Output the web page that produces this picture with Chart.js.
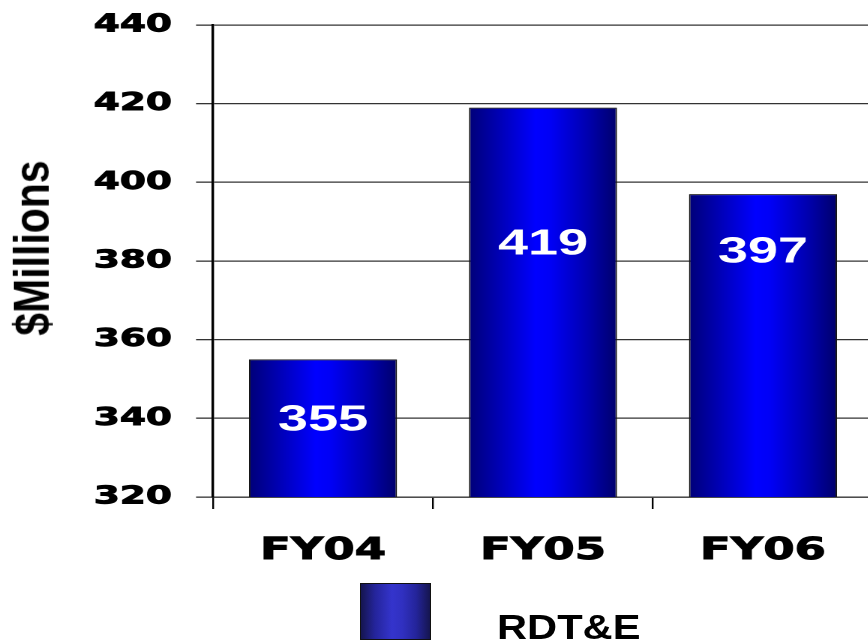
<!DOCTYPE html>
<html>
<head>
<meta charset="utf-8">
<script src="https://cdn.jsdelivr.net/npm/chart.js@4.4.1/dist/chart.umd.min.js"></script>
<style>
html,body{margin:0;padding:0;background:#fff;overflow:hidden;width:868px;height:640px;}
#wrap{position:absolute;left:0;top:0;width:582px;height:640px;transform:scaleX(1.5);transform-origin:0 0;}
#ytitle{position:absolute;left:33px;top:248px;font:bold 41px "Liberation Sans",Arial,sans-serif;color:#000;white-space:nowrap;line-height:41px;transform:translate(-50%,-50%) rotate(-90deg) scaleY(1.2);}
#legbox{position:absolute;left:360px;top:583px;width:69px;height:55px;border:1px solid #111;
  background:linear-gradient(to right,#15154f 0%,#24249a 20%,#3434cc 45%,#3030c0 60%,#24249a 80%,#15154f 100%);}
#legtext{position:absolute;left:497px;top:609px;font:bold 35px "Liberation Sans",Arial,sans-serif;line-height:35px;color:#000;white-space:nowrap;transform:scaleX(1.19);transform-origin:0 0;}
</style>
</head>
<body>
<div id="wrap"><canvas id="c"></canvas></div>
<div id="ytitle"></div>
<div id="legbox"></div>
<div id="legtext"></div>
<script>
const categories = ['FY04', 'FY05', 'FY06'];
const values = [355, 419, 397];
const seriesName = 'RDT&E';
const axisTitle = '$Millions';
const yMin = 320, yMax = 440, yStep = 20;
// where each value label sits inside its bar, in axis units
const labelAt = [340.2, 384.9, 382.9];

document.getElementById('ytitle').textContent = axisTitle;
document.getElementById('legtext').textContent = seriesName;

const BAR_PCT = 0.673;

function barGradient(context) {
  const chart = context.chart;
  const xs = chart.scales.x;
  const area = chart.chartArea;
  if (!xs || !area) return '#0000ff';
  const cx = xs.getPixelForValue(context.dataIndex);
  const w = (area.right - area.left) / categories.length * BAR_PCT;
  const g = chart.ctx.createLinearGradient(cx - w / 2, 0, cx + w / 2, 0);
  g.addColorStop(0, '#000078');
  g.addColorStop(0.2, '#0000b4');
  g.addColorStop(0.45, '#0000ff');
  g.addColorStop(0.55, '#0000f6');
  g.addColorStop(0.8, '#0000b0');
  g.addColorStop(1, '#00006c');
  return g;
}

const valueLabels = {
  id: 'valueLabels',
  afterDatasetsDraw(chart) {
    const ctx = chart.ctx;
    const meta = chart.getDatasetMeta(0);
    const ys = chart.scales.y;
    const size = 36;
    ctx.save();
    ctx.font = 'bold ' + size + 'px "Liberation Sans", Arial, sans-serif';
    ctx.fillStyle = '#ffffff';
    ctx.textAlign = 'center';
    ctx.textBaseline = 'alphabetic';
    meta.data.forEach((bar, i) => {
      const yc = ys.getPixelForValue(labelAt[i]);
      ctx.fillText(String(values[i]), bar.x, yc + 0.716 * size / 2);
    });
    ctx.restore();
  }
};

new Chart(document.getElementById('c'), {
  type: 'bar',
  data: {
    labels: categories,
    datasets: [{
      label: seriesName,
      data: values,
      backgroundColor: barGradient,
      borderColor: '#151515',
      borderWidth: 1,
      borderSkipped: false,
      barPercentage: BAR_PCT,
      categoryPercentage: 1
    }]
  },
  options: {
    responsive: true,
    maintainAspectRatio: false,
    animation: false,
    devicePixelRatio: 2,
    layout: { padding: { top: 25, left: 0, right: 0, bottom: 0 } },
    plugins: { legend: { display: false }, tooltip: { enabled: false } },
    scales: {
      x: {
        type: 'category',
        offset: true,
        afterFit(s) { s.height = 143; s.paddingLeft = 0; s.paddingRight = 0; },
        grid: { display: true, drawOnChartArea: false, drawTicks: true, tickLength: 12, color: '#000', lineWidth: 1.2, offset: true },
        border: { display: true, color: '#333', width: 1.3 },
        ticks: { color: '#000', padding: 24, textStrokeColor: '#000', textStrokeWidth: 0.9, font: { family: 'DejaVu Sans', weight: 'bold', size: 30 } }
      },
      y: {
        min: yMin,
        max: yMax,
        afterFit(s) { s.width = 142; s.paddingTop = 0; s.paddingBottom = 0; },
        grid: { color: '#333', lineWidth: 1.3, tickLength: 11.3, drawTicks: true },
        border: { display: true, color: '#000', width: 1.7 },
        ticks: { stepSize: yStep, color: '#000', padding: 16, textStrokeColor: '#000', textStrokeWidth: 0.9, font: { family: 'DejaVu Sans', weight: 'bold', size: 25 } }
      }
    }
  },
  plugins: [valueLabels]
});
</script>
</body>
</html>
